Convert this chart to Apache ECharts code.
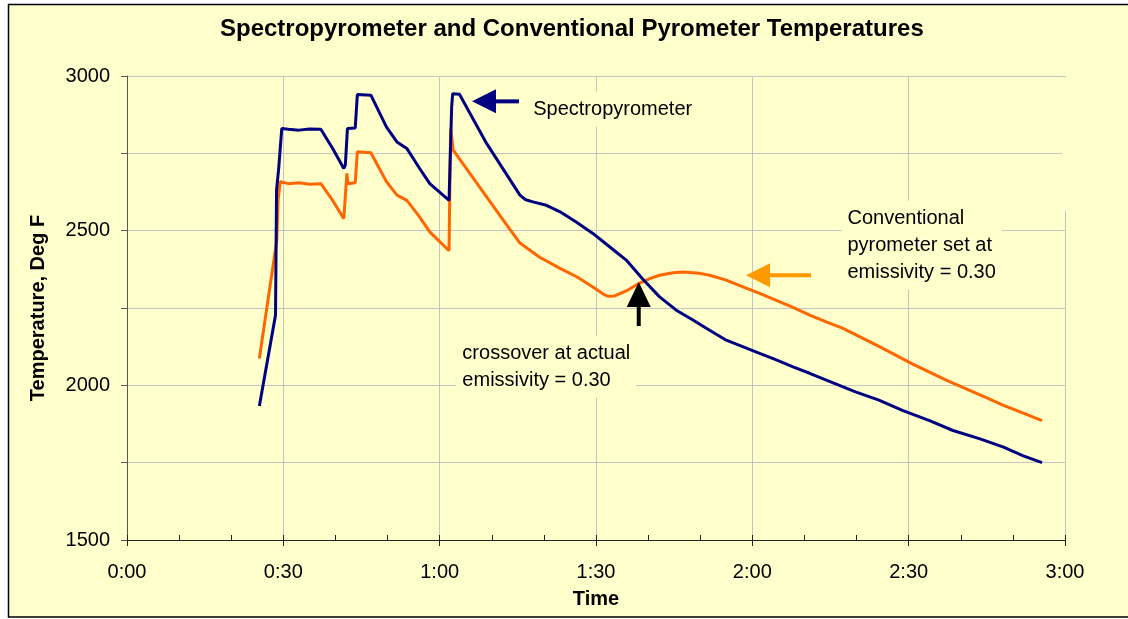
<!DOCTYPE html>
<html>
<head>
<meta charset="utf-8">
<script src="https://cdn.jsdelivr.net/npm/echarts@6/dist/echarts.min.js"></script>
<style>
html, body { margin: 0; padding: 0; background: #fff; }
#chart { width: 1128px; height: 619px; }
</style>
</head>
<body>
<div id="chart"></div>
<script>
// time in minutes, temperature in deg F
const spectroData = [
	[25.4, 1933], [28.5, 2227], [28.7, 2631], [29.1, 2700], [29.7, 2830],
	[31, 2828], [33, 2825], [35, 2829], [37.2, 2828], [39.5, 2765], [41.6, 2701],
	[41.9, 2712], [42.3, 2830], [43.8, 2832], [44.2, 2940], [46.8, 2938],
	[49.8, 2835], [51.8, 2787], [53.7, 2766], [56, 2705], [58.1, 2652],
	[61.8, 2598], [62.3, 2900], [62.5, 2943], [63.8, 2941], [69.0, 2782],
	[75.4, 2615], [76.5, 2600], [77.9, 2593], [80.5, 2582], [83.1, 2561],
	[86.2, 2528], [89.4, 2491], [92.6, 2448], [95.8, 2405], [99.0, 2343],
	[102.2, 2286], [105.4, 2243], [108.6, 2211], [111.8, 2178], [115.0, 2146],
	[121.4, 2103], [124.6, 2082], [127.8, 2060], [131, 2039], [134.2, 2017],
	[139.8, 1979], [144.3, 1952], [148.8, 1919], [154, 1886], [158.5, 1854],
	[163.7, 1827], [168.2, 1800], [172, 1772], [175.6, 1750]
];
const conventionalData = [
	[25.4, 2087], [28.75, 2469], [29.0, 2600], [29.4, 2658], [31, 2652],
	[33, 2655], [35, 2650], [37.2, 2652], [39.5, 2597], [41.6, 2539],
	[42.2, 2685], [42.4, 2652], [43.8, 2655], [44.2, 2755], [46.8, 2752],
	[49.8, 2658], [51.8, 2615], [53.7, 2598], [56, 2548], [58.1, 2496],
	[61.8, 2435], [62.1, 2830], [62.6, 2760], [67.4, 2647], [72.2, 2534],
	[75.4, 2460], [79.2, 2414], [83.1, 2378], [86.3, 2351], [89.4, 2318],
	[91.4, 2295], [92.3, 2288], [93.6, 2289], [95.8, 2305], [98.2, 2329],
	[100.3, 2345], [102.2, 2356], [104.8, 2364], [106.7, 2366], [109.9, 2362],
	[111.8, 2356], [115, 2340], [118.2, 2318], [121.4, 2297], [124.6, 2275],
	[127.8, 2252], [131, 2227], [134.2, 2205], [137.4, 2184], [144.4, 2125],
	[150.6, 2070], [157.2, 2017], [161.7, 1984], [164.9, 1960], [168.2, 1935],
	[172, 1910], [175.6, 1886]
];
const timeRange = [0, 180];
const timeStep = 30;
const tempRange = [1500, 3000];
const tempStep = 250;
const tempLabelStep = 500;

const font = "'Liberation Sans', Arial, sans-serif";
const yellow = '#FFFFCC';

function fmtTime(v) {
	const h = Math.floor(v / 60);
	const m = v % 60;
	return h + ':' + (m < 10 ? '0' : '') + m;
}

const chart = echarts.init(document.getElementById('chart'));
chart.setOption({
	animation: false,
	backgroundColor: yellow,
	title: {
		text: 'Spectropyrometer and Conventional Pyrometer Temperatures',
		left: 215,
		top: 12,
		textStyle: { fontFamily: font, fontWeight: 'bold', fontSize: 24, color: '#000' }
	},
	grid: { left: 127, top: 76, right: 63, bottom: 79 },
	xAxis: [{
		type: 'value',
		min: timeRange[0],
		max: timeRange[1],
		interval: timeStep,
		name: 'Time',
		nameLocation: 'middle',
		nameGap: 49,
		nameTextStyle: { fontFamily: font, fontWeight: 'bold', fontSize: 20, color: '#000' },
		axisLine: { lineStyle: { color: '#222', width: 1 } },
		axisTick: { inside: true, length: 5, lineStyle: { color: '#222' } },
		minorTick: { show: true, splitNumber: 3, length: 5, lineStyle: { color: '#222' } },
		splitLine: { show: true, lineStyle: { color: '#c4c4c4', width: 1 } },
		axisLabel: { formatter: fmtTime, margin: 22, fontFamily: font, fontSize: 20, color: '#000' }
	}, {
		// outer half of the major ticks
		type: 'value',
		position: 'bottom',
		min: timeRange[0],
		max: timeRange[1],
		interval: timeStep,
		axisLine: { show: false },
		axisTick: { show: true, length: 6, lineStyle: { color: '#222' } },
		axisLabel: { show: false },
		splitLine: { show: false }
	}],
	yAxis: {
		type: 'value',
		min: tempRange[0],
		max: tempRange[1],
		interval: tempStep,
		name: 'Temperature, Deg F',
		nameLocation: 'middle',
		nameGap: 79,
		nameTextStyle: { fontFamily: font, fontWeight: 'bold', fontSize: 20, color: '#000' },
		axisLine: { show: true, lineStyle: { color: '#555', width: 1 } },
		axisTick: { show: true, length: 6, lineStyle: { color: '#555' } },
		splitLine: { show: true, lineStyle: { color: '#c4c4c4', width: 1 } },
		axisLabel: {
			formatter: v => (v % tempLabelStep === 0 ? String(v) : ''),
			margin: 17, fontFamily: font, fontSize: 20, color: '#000'
		}
	},
	series: [{
		name: 'Conventional',
		type: 'line',
		xAxisIndex: 0,
		data: conventionalData,
		showSymbol: false,
		lineStyle: { color: '#FF6600', width: 3 },
		z: 3
	}, {
		name: 'Spectropyrometer',
		type: 'line',
		xAxisIndex: 0,
		data: spectroData,
		showSymbol: false,
		lineStyle: { color: '#000080', width: 3 },
		z: 4
	}]
});

// annotations, anchored in data coordinates
const px = p => chart.convertToPixel({ gridIndex: 0 }, p);

function leftArrow(tip, len, color) {
	const [x, y] = px(tip);
	return [
		{ type: 'line', z: 100, shape: { x1: x + 20, y1: y, x2: x + len, y2: y }, style: { stroke: color, lineWidth: 4 } },
		{ type: 'polygon', z: 100, shape: { points: [[x, y], [x + 24, y - 12], [x + 24, y + 12]] }, style: { fill: color } }
	];
}
function upArrow(tip, len, color) {
	const [x, y] = px(tip);
	return [
		{ type: 'line', z: 100, shape: { x1: x, y1: y + 20, x2: x, y2: y + len }, style: { stroke: color, lineWidth: 4 } },
		{ type: 'polygon', z: 100, shape: { points: [[x, y], [x - 12, y + 25], [x + 12, y + 25]] }, style: { fill: color } }
	];
}
function note(at, text) {
	const [x, y] = px(at);
	return {
		type: 'text', z: 99, x: x, y: y,
		style: {
			text: text, fill: '#000', font: '20px ' + font, lineHeight: 27,
			verticalAlign: 'middle', align: 'left',
			backgroundColor: yellow, padding: [4, 6, 4, 6]
		}
	};
}

// the top of the 3:00 gridline is hidden in the original
const [gx, gTop] = px([timeRange[1], tempRange[1]]);
const [, gCut] = px([timeRange[1], 2565]);

chart.setOption({
	graphic: [
		{ type: 'rect', z: 98, shape: { x: gx - 3, y: gTop + 1, width: 6, height: gCut - gTop - 1 }, style: { fill: yellow } },
		// white margin and black frame around the chart
		{ type: 'rect', z: 200, shape: { x: 0, y: 0, width: 8, height: 619 }, style: { fill: '#fff' } },
		{ type: 'rect', z: 200, shape: { x: 0, y: 0, width: 1128, height: 4 }, style: { fill: '#fff' } },
		{ type: 'rect', z: 200, shape: { x: 0, y: 618, width: 1128, height: 1 }, style: { fill: '#fff' } },
		{ type: 'rect', z: 201, shape: { x: 8.5, y: 4.5, width: 1140, height: 612.5 }, style: { fill: null, stroke: '#000', lineWidth: 1.5 } },
		...leftArrow([66.2, 2918], 47, '#000080'),
		...leftArrow([118.8, 2356], 65, '#FF9900'),
		...upArrow([98.2, 2334], 44, '#000'),
		note([76.8, 2893], 'Spectropyrometer'),
		note([137.1, 2453], 'Conventional\npyrometer set at\nemissivity = 0.30'),
		note([63.2, 2060], 'crossover at actual\nemissivity = 0.30')
	]
});
</script>
</body>
</html>
